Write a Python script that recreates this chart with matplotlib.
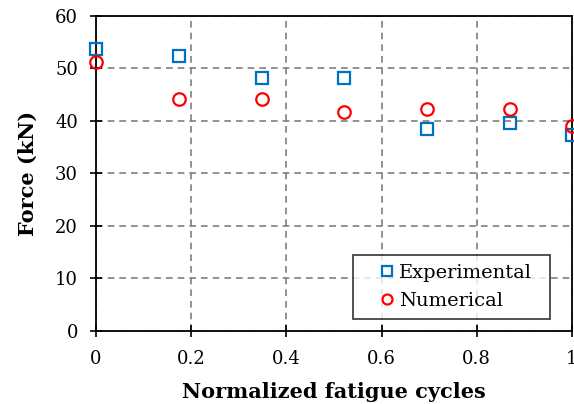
import matplotlib
matplotlib.use("Agg")
import matplotlib.pyplot as plt

# normalized fatigue cycles and measured / simulated forces (kN)
cycles = [0.0, 0.174, 0.348, 0.522, 0.696, 0.870, 1.0]
experimental = [53.7, 52.4, 48.1, 48.1, 38.4, 39.6, 37.4]
numerical = [51.2, 44.1, 44.1, 41.8, 42.2, 42.2, 39.0]

xticks = [0, 0.2, 0.4, 0.6, 0.8, 1]
xtick_labels = ["0", "0.2", "0.4", "0.6", "0.8", "1"]
yticks = [0, 10, 20, 30, 40, 50, 60]

plt.rcParams['font.family'] = ['DejaVu Serif']

fig = plt.figure(figsize=(5.74, 4.04), dpi=100)
ax = fig.add_axes([0.1672, 0.1807, 0.8293, 0.7797])

ax.plot(cycles, experimental, linestyle='none', marker='s', markersize=8.5,
        markerfacecolor='none', markeredgecolor='#0070C0', markeredgewidth=1.6,
        label='Experimental', clip_on=False, zorder=3)
ax.plot(cycles, numerical, linestyle='none', marker='o', markersize=9,
        markerfacecolor='none', markeredgecolor='#FF0000', markeredgewidth=1.6,
        label='Numerical', clip_on=False, zorder=3)

ax.set_xlim(0, 1)
ax.set_ylim(0, 60)
ax.set_xticks(xticks)
ax.set_xticklabels(xtick_labels)
ax.set_yticks(yticks)
ax.tick_params(direction='inout', length=8, width=1.2, labelsize=13)
ax.tick_params(axis='x', pad=10)
ax.tick_params(axis='y', pad=9)

ax.grid(True, color='#7f7f7f', linestyle=(0, (4, 3)), linewidth=1.2)
for s in ax.spines.values():
    s.set_linewidth(1.3)

ax.set_xlabel('Normalized fatigue cycles', fontsize=15, fontweight='bold', labelpad=10)
ax.set_ylabel('Force (kN)', fontsize=15, fontweight='bold', labelpad=12)

# wide legend box in the lower right corner
leg = ax.legend(loc='lower left', bbox_to_anchor=(0.54, 0.038, 0.414, 0.2),
                mode='expand', fontsize=14,
                frameon=True, fancybox=False, edgecolor='black',
                handletextpad=-0.67, handlelength=2.6, borderpad=0.45,
                labelspacing=0.55, markerscale=0.8, borderaxespad=0)
leg.get_frame().set_linewidth(1.2)

fig.savefig('out.png', dpi=100)
